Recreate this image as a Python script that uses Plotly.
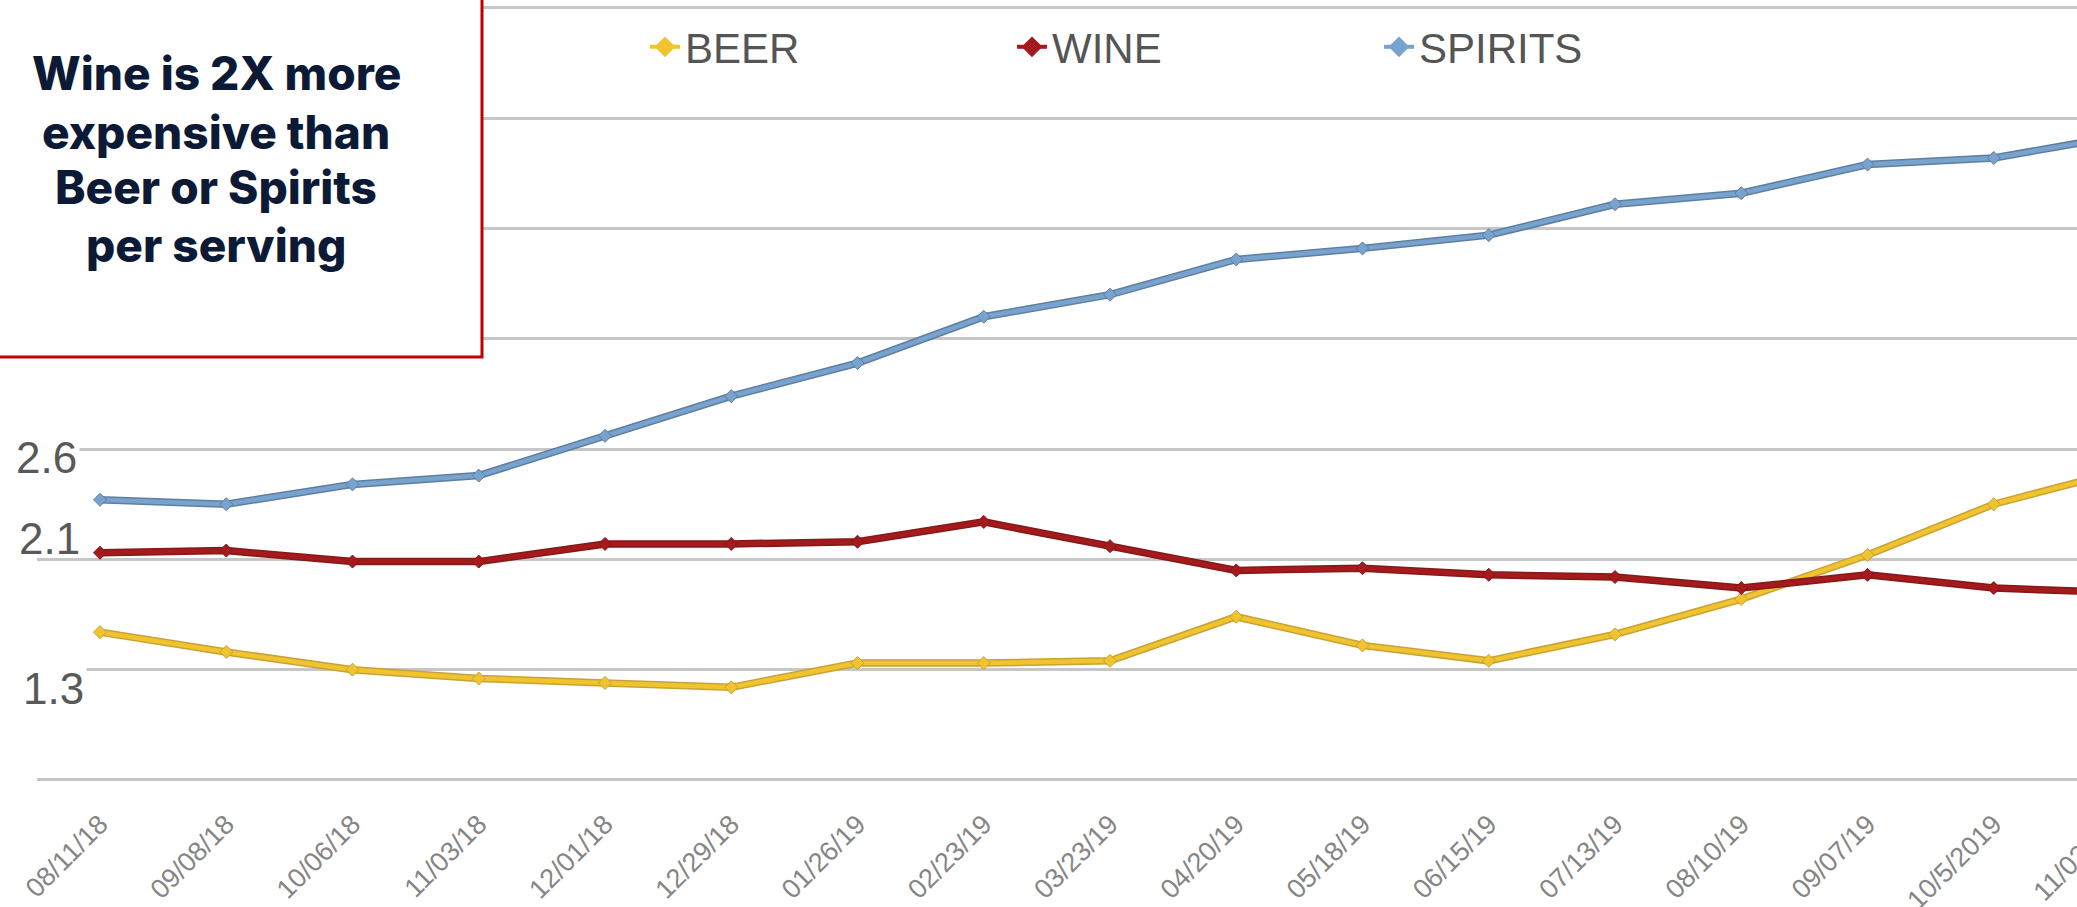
import plotly.graph_objects as go

# Four-week sampling dates
dates = ["08/11/18", "09/08/18", "10/06/18", "11/03/18", "12/01/18", "12/29/18",
         "01/26/19", "02/23/19", "03/23/19", "04/20/19", "05/18/19", "06/15/19",
         "07/13/19", "08/10/19", "09/07/19", "10/5/2019", "11/02/19"]

# Average price per serving
beer = [1.77, 1.68, 1.60, 1.56, 1.54, 1.52, 1.63, 1.63, 1.64, 1.84, 1.71, 1.64,
        1.76, 1.92, 2.12, 2.35, 2.50]
wine = [2.13, 2.14, 2.09, 2.09, 2.17, 2.17, 2.18, 2.27, 2.16, 2.05, 2.06, 2.03,
        2.02, 1.97, 2.03, 1.97, 1.95]
spirits = [2.37, 2.35, 2.44, 2.48, 2.66, 2.84, 2.99, 3.20, 3.30, 3.46, 3.51, 3.57,
           3.71, 3.76, 3.89, 3.92, 4.02]

grid_values = [1.1, 1.6, 2.1, 2.6, 3.1, 3.6, 4.1, 4.6]
axis_labels = ["2.6", "2.1", "1.3"]
callout_lines = ["Wine is 2X more", "expensive than", "Beer or Spirits", "per serving"]

W, H = 2077, 907
L, R, T, B = 37, 0, 4, 105
PW, PH = W - L - R, H - T - B


def px_x(p):
    return (p - L) / PW


def px_y(p):
    return (H - B - p) / PH


fig = go.Figure()

styles = {
    "BEER": ("#f0c42e", "#c9a236"),
    "WINE": ("#a51a1d", "#861818"),
    "SPIRITS": ("#78a3cf", "#5f7f9f"),
}

for name, vals in (("BEER", beer), ("WINE", wine), ("SPIRITS", spirits)):
    core, edge = styles[name]
    fig.add_trace(go.Scatter(
        x=dates, y=vals, mode="lines", showlegend=False, hoverinfo="skip",
        line=dict(color=edge, width=7.5),
    ))
    fig.add_trace(go.Scatter(
        x=dates, y=vals, mode="lines+markers", name=name, showlegend=False,
        line=dict(color=core, width=4.5),
        marker=dict(symbol="diamond", size=10, color=core,
                    line=dict(color=edge, width=1)),
    ))
    fig.add_trace(go.Scatter(
        x=[None], y=[None], mode="lines+markers", name=name,
        line=dict(color=core, width=4),
        marker=dict(symbol="diamond", size=16, color=core),
    ))

# callout box in the upper-left corner
fig.add_shape(type="rect", xref="paper", yref="paper",
              x0=-0.05, x1=px_x(482), y0=px_y(357), y1=1.05,
              line=dict(color="#c00000", width=3), fillcolor="white",
              layer="above")
for line_text, yc in zip(callout_lines, (73, 132, 187, 245)):
    fig.add_annotation(
        xref="paper", yref="paper", x=px_x(216), y=px_y(yc),
        xanchor="center", yanchor="middle", showarrow=False,
        text=line_text,
        font=dict(family="Inter", size=46, color="#0c1a36", weight=800),
    )

# value labels along the left edge
for label, xl, yc, bg in zip(axis_labels, (13, 16, 20), (457, 538, 688),
                             ("white", "rgba(0,0,0,0)", "white")):
    fig.add_annotation(
        xref="paper", yref="paper", x=px_x(xl), y=px_y(yc),
        xanchor="left", yanchor="middle", showarrow=False, text=label,
        bgcolor=bg, borderpad=2,
        font=dict(family="Liberation Sans", size=44, color="#595959"),
    )

x0 = -0.499
x1 = x0 + PW / 126.25

tick_font = dict(family="Liberation Sans", size=27, color="#858585")

# the last date sits just past the right edge; only the start of its label shows
last = len(dates) - 1
fig.add_annotation(
    xref="paper", yref="paper", x=(last - x0) / (x1 - x0), y=0,
    xanchor="right", yanchor="top", xshift=4, yshift=-8, showarrow=False,
    text=dates[last], textangle=-45, font=tick_font,
)

fig.update_layout(
    width=W, height=H,
    margin=dict(l=L, r=R, t=T, b=B, pad=0, autoexpand=False),
    paper_bgcolor="white", plot_bgcolor="white",
    showlegend=True,
    legend=dict(
        orientation="h", x=px_x(645), y=px_y(47), xanchor="left", yanchor="middle",
        font=dict(family="Liberation Sans", size=42, color="#555555"),
        entrywidth=322, entrywidthmode="pixels",
        bgcolor="rgba(0,0,0,0)", itemclick=False, itemdoubleclick=False,
    ),
    xaxis=dict(
        type="category", range=[x0, x1], showgrid=False, showline=False,
        zeroline=False, ticks="", tickangle=-45, automargin=False,
        tickfont=tick_font,
    ),
    yaxis=dict(
        range=[1.0, 4.618], tickvals=grid_values, showticklabels=False,
        showgrid=True, gridcolor="#c6c6c6", gridwidth=3, zeroline=False,
        showline=False, ticks="", automargin=False,
    ),
)

fig.write_html("out.html")
